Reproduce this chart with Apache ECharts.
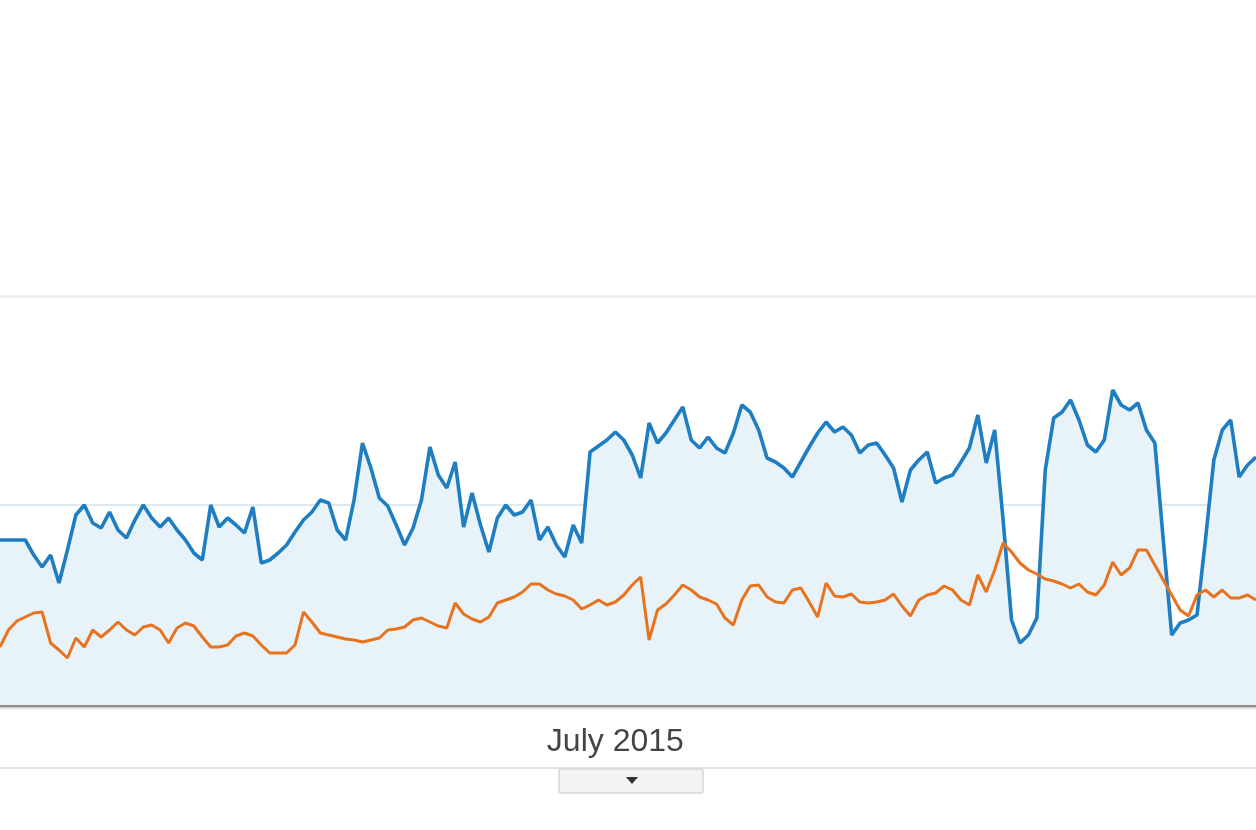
<!DOCTYPE html>
<html>
<head>
<meta charset="utf-8">
<script src="https://cdn.jsdelivr.net/npm/echarts@6/dist/echarts.min.js"></script>
<style>
  html, body { margin: 0; padding: 0; background: #ffffff; }
  #chart { width: 1256px; height: 830px; }
</style>
</head>
<body>
<div id="chart"></div>
<script>
// ---- Data ----
const startDate = '2015-04-19';           // first day shown
const monthLabel = { date: '2015-07-01', text: 'July 2015' };

const sessions = [
  1650,1650,1650,1650,1500,1380,1500,1220,1550,1900,
  2000,1820,1770,1930,1750,1670,1850,2000,1870,1780,
  1870,1750,1650,1520,1450,2000,1780,1870,1800,1720,
  1980,1420,1450,1520,1600,1730,1850,1930,2050,2020,
  1750,1650,2050,2620,2370,2070,1990,1800,1600,1770,
  2050,2580,2300,2170,2430,1780,2120,1800,1530,1870,
  2000,1900,1930,2050,1650,1780,1600,1480,1800,1620,
  2530,2590,2650,2730,2650,2500,2270,2820,2620,2720,
  2850,2980,2650,2570,2680,2570,2520,2720,3000,2930,
  2750,2470,2430,2370,2280,2430,2580,2720,2830,2730,
  2780,2700,2520,2600,2620,2500,2370,2030,2350,2450,
  2530,2220,2270,2300,2430,2570,2900,2420,2750,1850,
  850,620,700,870,2350,2870,2930,3050,2850,2600,
  2530,2650,3150,3000,2950,3020,2750,2620,1650,700,
  820,850,900,1650,2450,2750,2850,2280,2400,2480
];

const newUsers = [
  580,750,840,880,920,930,620,550,470,670,
  580,750,680,750,830,750,700,780,800,750,
  620,770,820,790,680,580,580,600,690,720,
  690,600,520,520,520,600,930,830,720,700,
  680,660,650,630,650,670,750,760,780,850,
  870,830,790,770,1020,910,860,830,880,1020,
  1050,1080,1130,1210,1210,1150,1110,1090,1050,960,
  1000,1050,1000,1030,1100,1200,1280,650,950,1010,
  1100,1200,1150,1080,1050,1010,870,800,1050,1190,
  1200,1080,1030,1020,1150,1170,1030,880,1220,1090,
  1080,1110,1030,1020,1030,1050,1110,990,890,1050,
  1100,1120,1190,1150,1050,1000,1300,1130,1350,1620,
  1530,1420,1350,1310,1260,1240,1210,1170,1210,1130,
  1100,1200,1430,1300,1370,1550,1550,1400,1250,1100,
  950,890,1100,1150,1080,1150,1070,1070,1100,1050
];

const yMin = 0, yMax = 4090, midLine = 2000;

// build category dates
const days = [];
{
  const d = new Date(startDate + 'T00:00:00Z');
  for (let i = 0; i < sessions.length; i++) {
    days.push(d.toISOString().slice(0, 10));
    d.setUTCDate(d.getUTCDate() + 1);
  }
}
const labelIndex = days.indexOf(monthLabel.date);

const chart = echarts.init(document.getElementById('chart'), null, { renderer: 'canvas' });

chart.setOption({
  animation: false,
  backgroundColor: '#ffffff',
  grid: { left: 0, right: 0, top: 296, bottom: 125, containLabel: false },
  xAxis: [{
    type: 'category',
    data: days,
    boundaryGap: false,
    axisLine: { show: true, lineStyle: { color: '#8e8e8e', width: 4,
      shadowColor: 'rgba(0,0,0,0.3)', shadowBlur: 3, shadowOffsetY: 1 } },
    axisTick: { show: false },
    splitLine: { show: false },
    axisLabel: {
      show: true,
      interval: (idx) => idx === labelIndex,
      formatter: (v, idx) => (idx === labelIndex ? monthLabel.text : ''),
      margin: 21,
      fontFamily: 'Liberation Sans, Arial, sans-serif',
      fontSize: 32,
      color: '#444444'
    }
  }, {
    type: 'category',
    data: days,
    position: 'top',
    boundaryGap: false,
    axisLine: { show: true, lineStyle: { color: '#eeeeee', width: 3 } },
    axisTick: { show: false },
    axisLabel: { show: false },
    splitLine: { show: false }
  }],
  yAxis: {
    type: 'value',
    min: yMin,
    max: yMax,
    show: true,
    axisLine: { show: false },
    axisTick: { show: false },
    axisLabel: { show: false },
    splitLine: { show: false }
  },
  series: [{
    name: 'Sessions',
    type: 'line',
    data: sessions,
    xAxisIndex: 0,
    showSymbol: false,
    symbol: 'none',
    lineStyle: { color: '#1f7ec2', width: 3.6 },
    areaStyle: { color: '#e7f2f9', opacity: 1 },
    z: 2,
    markLine: {
      silent: true,
      symbol: ['none', 'none'],
      label: { show: false },
      lineStyle: { color: '#dde8ef', width: 2, type: 'solid' },
      data: [{ yAxis: midLine }],
      z: 1
    }
  }, {
    name: 'New Users',
    type: 'line',
    data: newUsers,
    xAxisIndex: 0,
    showSymbol: false,
    symbol: 'none',
    lineStyle: { color: '#e8731f', width: 3 },
    z: 3
  }],
  graphic: [
    { type: 'line', shape: { x1: 0, y1: 768, x2: 1256, y2: 768 },
      style: { stroke: '#e2e2e2', lineWidth: 2 } },
    { type: 'rect', shape: { x: 559, y: 769, width: 144, height: 24, r: 2 },
      style: { fill: '#f3f3f3', stroke: '#d8d8d8', lineWidth: 1.5 } },
    { type: 'polygon', shape: { points: [[626, 777], [638, 777], [632, 784]] },
      style: { fill: '#333333' } }
  ]
});
</script>
</body>
</html>
